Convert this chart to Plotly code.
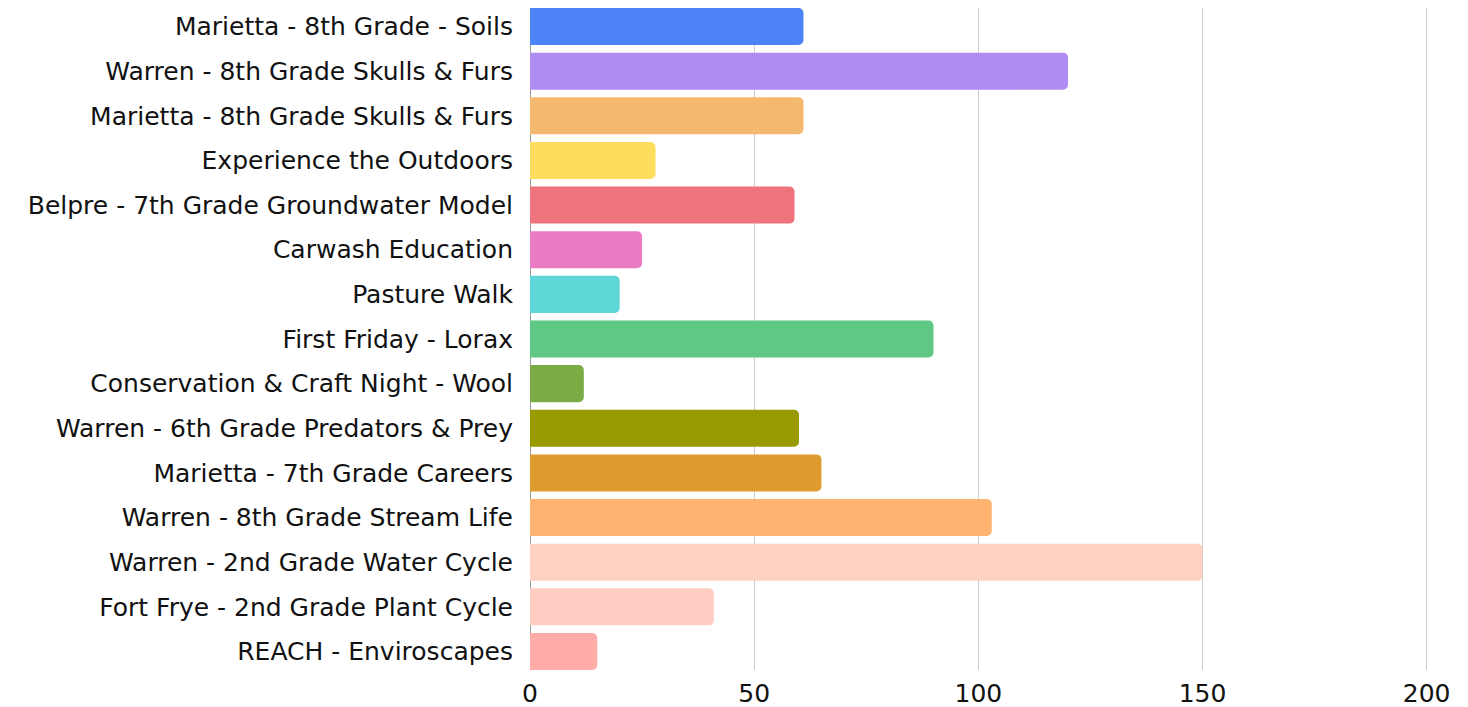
import plotly.graph_objects as go

categories = [
    "Marietta - 8th Grade - Soils",
    "Warren - 8th Grade Skulls & Furs",
    "Marietta - 8th Grade Skulls & Furs",
    "Experience the Outdoors",
    "Belpre - 7th Grade Groundwater Model",
    "Carwash Education",
    "Pasture Walk",
    "First Friday - Lorax",
    "Conservation & Craft Night - Wool",
    "Warren - 6th Grade Predators & Prey",
    "Marietta - 7th Grade Careers",
    "Warren - 8th Grade Stream Life",
    "Warren - 2nd Grade Water Cycle",
    "Fort Frye - 2nd Grade Plant Cycle",
    "REACH - Enviroscapes",
]
values = [61, 120, 61, 28, 59, 25, 20, 90, 12, 60, 65, 103, 150, 41, 15]
colors = [
    "#4C84F7", "#AF8DF4", "#F4B86E", "#FFDD5C", "#EF737D",
    "#E87BC4", "#5CD6D6", "#5FC884", "#7AAB45", "#999900",
    "#DE9B2F", "#FFB371", "#FFD1C0", "#FFCDC2", "#FFABA8",
]
tick_vals = [0, 50, 100, 150, 200]

fig = go.Figure(go.Bar(
    x=values, y=categories, orientation="h",
    marker=dict(color=colors, line=dict(width=0)),
    hoverinfo="x+y",
))
fig.update_layout(
    width=1468, height=707,
    margin=dict(l=522, r=48, t=0, b=45, autoexpand=False),
    paper_bgcolor="white", plot_bgcolor="white",
    font=dict(family="DejaVu Sans, sans-serif", size=25, color="#111111"),
    bargap=0.17, barcornerradius=5,
    showlegend=False,
)
fig.update_xaxes(range=[0, 200.3], tickvals=tick_vals, showgrid=True,
                 gridcolor="#cccccc", gridwidth=1, zeroline=True,
                 zerolinecolor="#999999", zerolinewidth=1, ticks="",
                 showline=False, fixedrange=True, automargin=False,
                 ticklabelstandoff=6)
fig.update_yaxes(range=[14.415, -0.415], ticks="", showgrid=False,
                 ticklabelstandoff=16, fixedrange=True, automargin=False)
fig.write_html("out.html")
